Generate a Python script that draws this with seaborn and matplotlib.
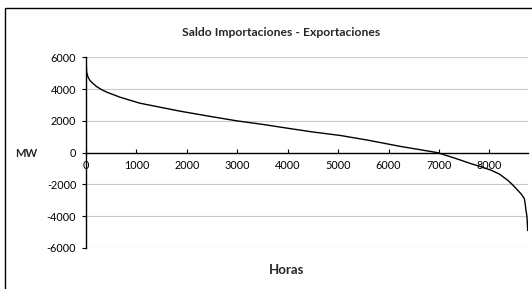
import matplotlib
matplotlib.use("Agg")
import matplotlib.pyplot as plt
import numpy as np
import pandas as pd
import seaborn as sns
from matplotlib.patches import Rectangle

# ============================================================
# Data (sorted import-export balance)
# ============================================================
hours = [0, 5, 12, 40, 78, 150, 210, 300, 409, 674, 1071, 1469, 1866,
         2463, 2994, 3500, 4053, 4500, 5047, 5600, 6240, 6600, 6970,
         7300, 7632, 7800, 8030, 8200, 8361, 8460, 8560, 8630, 8692,
         8710, 8725, 8740, 8750, 8760]
mw = [5950, 5500, 5060, 4750, 4540, 4320, 4160, 3980, 3810, 3490, 3110,
      2860, 2610, 2280, 2000, 1780, 1510, 1300, 1080, 780, 390, 200, 0,
      -330, -690, -850, -1100, -1350, -1730, -2020, -2360, -2600, -2880,
      -3200, -3620, -3900, -4250, -4900]
x_ticks = [0, 1000, 2000, 3000, 4000, 5000, 6000, 7000, 8000]
y_ticks = [-6000, -4000, -2000, 0, 2000, 4000, 6000]

df = pd.DataFrame({"Horas": hours, "MW": mw})

sns.set_theme(style="white")
plt.rcParams["font.family"] = ["Lato", "DejaVu Sans"]
plt.rcParams["axes.unicode_minus"] = False

fig = plt.figure(figsize=(5.32, 2.89), dpi=100)
ax = fig.add_axes([0.1617, 0.1419, 0.8302, 0.6598])

sns.lineplot(data=df, x="Horas", y="MW", color="black", linewidth=1.0, ax=ax)

ax.set_xlim(0, 8760)
ax.set_ylim(-6000, 6000)
ax.set_xticks(x_ticks)
ax.set_yticks(y_ticks)
ax.set_xlabel("")
ax.set_ylabel("")

for y in y_ticks:
    if y != 0:
        ax.axhline(y, color="#c8c8c8", linewidth=0.8, zorder=0)

for side in ["top", "right"]:
    ax.spines[side].set_visible(False)
ax.spines["bottom"].set_position(("data", 0))
ax.spines["bottom"].set_color("black")
ax.spines["bottom"].set_linewidth(1.0)
ax.spines["left"].set_color("black")
ax.spines["left"].set_linewidth(1.0)

ax.tick_params(axis="x", direction="in", length=3, width=0.8, pad=5,
               labelsize=7.8, colors="black", bottom=True)
ax.tick_params(axis="y", direction="out", length=3, width=0.8, pad=4,
               labelsize=7.8, colors="black", left=True)

fig.text(0.528, 0.889, "Saldo Importaciones - Exportaciones",
         ha="center", va="center", fontsize=8.7, fontweight="bold")
fig.text(0.05, 0.47, "MW", ha="center", va="center",
         fontsize=8, fontweight="bold")
fig.text(0.539, 0.066, "Horas", ha="center", va="center",
         fontsize=9.5, fontweight="bold")

# chart frame
fig.patches.append(Rectangle((0.0094, -0.2), 1.2, 1.171,
                             transform=fig.transFigure, fill=False,
                             edgecolor="black", linewidth=1.0))

fig.savefig("out.png", dpi=100)
plt.close(fig)
